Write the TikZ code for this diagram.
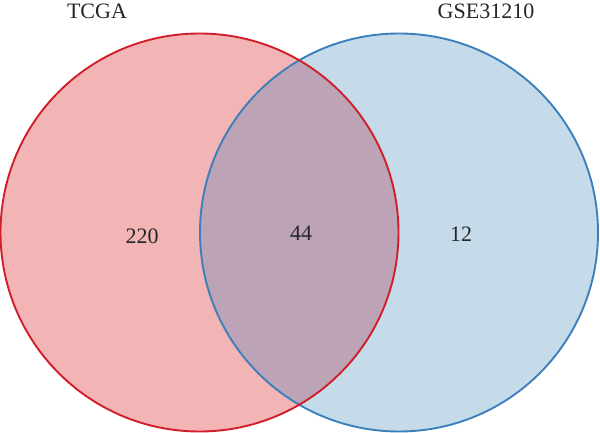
\documentclass[tikz,border=0pt]{standalone}
\usepackage{fontspec}
\setmainfont{Liberation Serif}
\definecolor{lfill}{HTML}{F2B4B5}
\definecolor{rfill}{HTML}{C6DBEA}
\definecolor{ofill}{HTML}{BCA3B5}
\definecolor{lline}{HTML}{D01E2A}
\definecolor{rline}{HTML}{3C7FBD}
\tikzset{lbl/.style={font=\fontsize{22}{26}\selectfont, text=black!85, inner sep=0pt}}
\begin{document}
\begin{tikzpicture}[x=1pt,y=-1pt]
\useasboundingbox (0,0) rectangle (600,433);
\coordinate (cl) at (199.5,232.5);
\coordinate (cr) at (399,232.5);
\fill[lfill] (cl) circle[radius=199];
\fill[rfill] (cr) circle[radius=199];
\begin{scope}
\clip (cl) circle[radius=199];
\fill[ofill] (cr) circle[radius=199];
\end{scope}
\draw[rline, line width=1.9pt] (cr) circle[radius=199];
\draw[lline, line width=1.9pt] (cl) circle[radius=199];
\node[lbl] (tcga) at (97,11) {TCGA};
\node[lbl] (gse) at (486,11) {GSE31210};
\node[lbl] (a) at (142,236) {220};
\node[lbl] (b) at (301,233) {44};
\node[lbl] (c) at (461,234) {12};
\end{tikzpicture}
\end{document}
